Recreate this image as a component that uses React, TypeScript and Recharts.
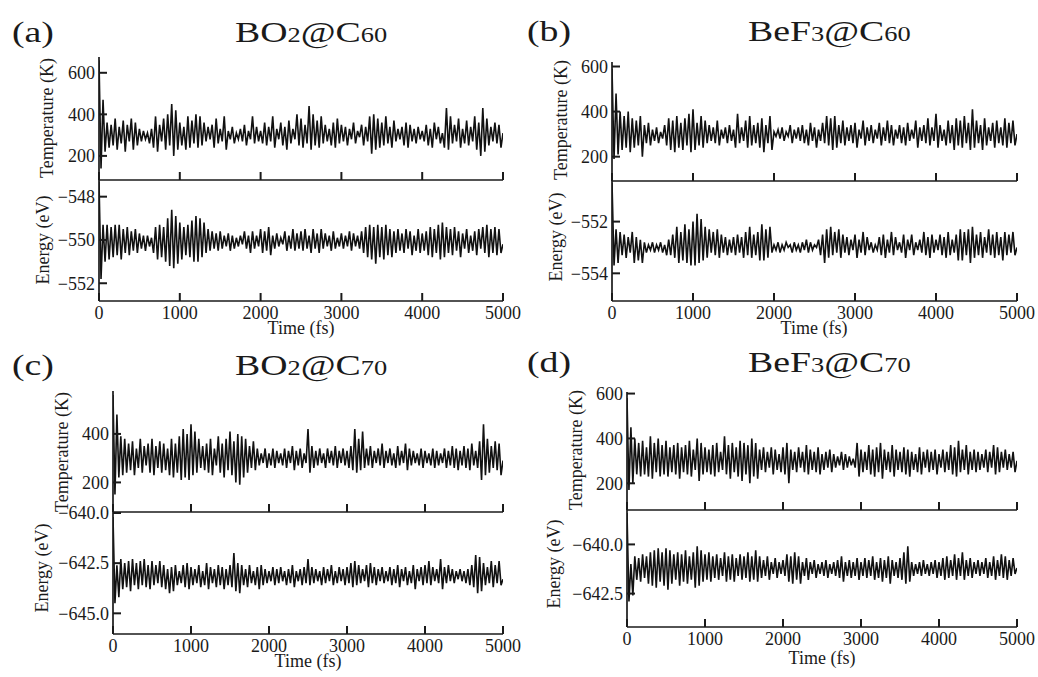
import React from 'react';
import { LineChart, Line, XAxis, YAxis } from 'recharts';

const FONT = '"Liberation Serif", "Times New Roman", serif';
const INK = '#1a1a1a';
const STEP = 25; // fs between samples

const X_TICKS = [0, 1000, 2000, 3000, 4000, 5000];

// (a) BO2@C60
const TEMP_A = [
  660, 140, 470, 220, 360, 240, 350, 250, 380, 230, 340, 260, 370, 220, 350, 270, 380, 230, 360, 250,
  330, 270, 320, 280, 310, 260, 330, 240, 390, 220, 350, 270, 380, 230, 400, 250, 450, 200, 420, 230,
  360, 250, 340, 230, 390, 240, 370, 260, 400, 240, 390, 250, 360, 270, 340, 280, 350, 240, 380, 260,
  330, 270, 390, 230, 320, 280, 340, 260, 310, 280, 330, 270, 350, 250, 320, 280, 390, 260, 340, 270,
  320, 260, 360, 250, 340, 270, 390, 240, 330, 280, 360, 250, 340, 230, 370, 260, 330, 280, 400, 250,
  380, 240, 350, 260, 440, 230, 400, 250, 370, 240, 390, 260, 350, 270, 330, 250, 360, 240, 380, 260,
  350, 270, 340, 250, 330, 280, 360, 260, 320, 290, 350, 250, 340, 270, 390, 210, 400, 230, 380, 240,
  360, 250, 390, 260, 340, 240, 370, 270, 330, 280, 340, 250, 360, 240, 350, 270, 330, 260, 340, 280,
  320, 270, 350, 250, 330, 240, 360, 280, 340, 260, 310, 240, 430, 230, 390, 260, 350, 270, 380, 240,
  330, 260, 370, 250, 340, 270, 390, 230, 360, 200, 430, 220, 380, 250, 340, 270, 360, 260, 350, 240,
  310,
];
const ENERGY_A = [
  -547.3, -551.8, -549.3, -551.0, -549.3, -550.9, -549.4, -550.8, -549.3, -550.7, -549.3, -550.9, -549.5, -550.6, -549.4, -550.7, -549.6, -550.5, -549.5, -550.6,
  -549.7, -550.4, -549.8, -550.5, -549.8, -550.3, -549.9, -550.6, -549.4, -550.9, -549.3, -550.8, -549.4, -551.0, -549.0, -551.2, -548.6, -551.3, -548.9, -551.1,
  -549.2, -550.9, -549.4, -550.7, -549.3, -550.8, -549.1, -551.0, -548.9, -551.0, -549.0, -550.8, -549.2, -550.6, -549.5, -550.5, -549.6, -550.4, -549.7, -550.5,
  -549.6, -550.4, -549.8, -550.3, -549.7, -550.5, -549.8, -550.4, -549.9, -550.3, -549.8, -550.2, -549.6, -550.4, -549.8, -550.6, -549.6, -550.4, -549.8, -550.3,
  -549.5, -550.6, -549.6, -550.5, -549.4, -550.7, -549.8, -550.4, -549.7, -550.3, -549.9, -550.2, -549.6, -550.5, -549.8, -550.4, -549.5, -550.5, -549.7, -550.4,
  -549.6, -550.5, -549.5, -550.4, -549.8, -550.6, -549.5, -550.4, -549.7, -550.6, -549.5, -550.4, -549.7, -550.3, -549.8, -550.5, -549.6, -550.4, -549.9, -550.3,
  -549.7, -550.4, -549.8, -550.3, -549.6, -550.5, -549.7, -550.3, -549.8, -550.4, -549.6, -550.6, -549.4, -550.8, -549.3, -550.9, -549.4, -551.1, -549.3, -550.8,
  -549.4, -550.9, -549.3, -550.7, -549.5, -550.8, -549.6, -550.6, -549.5, -550.5, -549.7, -550.6, -549.5, -550.4, -549.6, -550.7, -549.8, -550.5, -549.5, -550.6,
  -549.7, -550.5, -549.6, -550.7, -549.4, -550.8, -549.5, -550.6, -549.3, -550.9, -549.2, -550.8, -549.4, -550.6, -549.5, -550.7, -549.4, -550.5, -549.6, -550.8,
  -549.7, -550.4, -549.5, -550.6, -549.8, -550.5, -549.6, -550.7, -549.5, -550.4, -549.4, -550.6, -549.3, -550.8, -549.5, -550.6, -549.4, -550.7, -549.5, -550.6,
  -550.2,
];

// (b) BeF3@C60
const TEMP_B = [
  590, 190, 480, 210, 400, 230, 380, 240, 400, 220, 370, 240, 360, 250, 380, 200, 340, 260, 350, 250,
  320, 270, 330, 260, 310, 280, 340, 250, 370, 230, 360, 220, 380, 240, 350, 230, 370, 250, 390, 220,
  410, 230, 350, 250, 380, 240, 360, 260, 340, 270, 330, 260, 360, 250, 320, 280, 330, 260, 340, 270,
  320, 240, 390, 260, 330, 270, 360, 240, 380, 250, 340, 260, 350, 240, 370, 220, 340, 260, 380, 230,
  310, 290, 320, 280, 330, 270, 310, 290, 340, 260, 320, 280, 330, 270, 340, 260, 320, 250, 350, 270,
  330, 240, 320, 270, 350, 260, 380, 250, 370, 230, 380, 240, 340, 260, 360, 250, 330, 270, 340, 260,
  350, 240, 320, 280, 360, 250, 330, 270, 340, 260, 320, 280, 350, 250, 330, 270, 360, 260, 340, 250,
  320, 280, 340, 260, 330, 250, 350, 270, 320, 280, 360, 240, 330, 270, 340, 260, 370, 250, 330, 270,
  390, 240, 340, 270, 320, 250, 360, 260, 340, 230, 370, 250, 360, 240, 380, 260, 350, 230, 410, 240,
  360, 260, 340, 230, 370, 250, 330, 270, 350, 240, 360, 260, 330, 250, 370, 240, 350, 260, 360, 250,
  300,
];
const ENERGY_B = [
  -550.5, -553.7, -552.3, -553.6, -552.4, -553.3, -552.5, -553.4, -552.6, -553.2, -552.4, -553.6, -552.6, -553.5, -552.7, -553.6, -552.8, -553.2, -552.9, -553.1,
  -552.8, -553.2, -552.9, -553.1, -552.8, -553.2, -552.9, -553.3, -552.7, -553.3, -552.5, -553.4, -552.2, -553.6, -552.4, -553.5, -552.1, -553.6, -552.3, -553.7,
  -552.0, -553.7, -551.7, -553.6, -551.9, -553.5, -552.2, -553.4, -552.3, -553.2, -552.4, -553.3, -552.3, -553.4, -552.5, -553.2, -552.6, -553.3, -552.7, -553.2,
  -552.6, -553.3, -552.5, -553.2, -552.6, -553.4, -552.4, -553.3, -552.2, -553.4, -552.5, -553.3, -552.4, -553.5, -552.1, -553.5, -552.3, -553.4, -552.2, -553.2,
  -552.9, -553.1, -552.8, -553.2, -552.9, -553.1, -552.8, -553.0, -552.9, -553.2, -552.8, -553.1, -552.9, -553.2, -552.8, -553.1, -552.7, -553.2, -552.8, -553.1,
  -552.9, -553.0, -552.7, -553.3, -552.5, -553.6, -552.3, -553.4, -552.2, -553.3, -552.4, -553.2, -552.3, -553.4, -552.5, -553.2, -552.6, -553.3, -552.7, -553.1,
  -552.5, -553.4, -552.7, -553.2, -552.4, -553.3, -552.6, -553.1, -552.8, -553.2, -552.9, -553.1, -552.6, -553.3, -552.5, -553.4, -552.7, -553.2, -552.4, -553.3,
  -552.6, -553.1, -552.8, -553.2, -552.5, -553.4, -552.7, -553.1, -552.5, -553.3, -552.8, -553.1, -552.7, -553.2, -552.4, -553.3, -552.6, -553.4, -552.5, -553.2,
  -552.7, -553.1, -552.5, -553.3, -552.6, -553.4, -552.4, -553.3, -552.7, -553.2, -552.5, -553.5, -552.3, -553.5, -552.4, -553.3, -552.3, -553.6, -552.2, -553.4,
  -552.5, -553.3, -552.4, -553.4, -552.6, -553.2, -552.3, -553.3, -552.5, -553.4, -552.4, -553.3, -552.6, -553.5, -552.4, -553.3, -552.5, -553.2, -552.4, -553.3,
  -553.0,
];

// (c) BO2@C70
const TEMP_C = [
  560, 150, 480, 220, 390, 230, 380, 240, 360, 250, 370, 230, 340, 260, 380, 240, 350, 270, 360, 240,
  380, 230, 350, 260, 370, 240, 360, 250, 340, 230, 380, 220, 360, 240, 390, 210, 420, 220, 400, 210,
  440, 230, 410, 240, 380, 260, 350, 250, 360, 240, 380, 230, 340, 270, 390, 240, 360, 220, 380, 250,
  410, 230, 370, 200, 400, 190, 390, 220, 380, 240, 350, 260, 370, 250, 340, 270, 320, 280, 340, 260,
  320, 270, 340, 260, 330, 280, 320, 270, 340, 260, 330, 280, 350, 250, 330, 270, 340, 260, 320, 280,
  420, 240, 350, 260, 330, 270, 340, 280, 320, 260, 340, 280, 330, 270, 350, 260, 330, 280, 340, 270,
  330, 260, 350, 250, 420, 240, 380, 250, 410, 260, 340, 270, 350, 260, 330, 280, 340, 270, 360, 260,
  330, 280, 340, 270, 320, 260, 350, 270, 330, 280, 360, 250, 340, 270, 330, 280, 320, 270, 340, 260,
  330, 280, 320, 270, 340, 260, 330, 270, 320, 280, 340, 260, 330, 270, 350, 260, 340, 250, 330, 270,
  350, 260, 340, 250, 360, 270, 330, 260, 370, 210, 440, 230, 380, 240, 350, 260, 370, 250, 360, 230,
  290,
];
const ENERGY_C = [
  -640.2, -644.5, -642.6, -644.2, -642.3, -643.8, -642.5, -643.7, -642.4, -643.9, -642.3, -643.6, -642.5, -643.8, -642.4, -643.6, -642.3, -643.7, -642.6, -643.8,
  -642.4, -643.6, -642.6, -643.5, -642.4, -643.7, -642.6, -643.8, -642.8, -644.0, -642.7, -643.9, -642.6, -643.6, -642.9, -643.5, -642.6, -643.7, -642.5, -643.8,
  -642.7, -643.6, -642.8, -643.5, -642.6, -643.7, -642.9, -643.6, -642.5, -643.8, -642.7, -643.5, -642.8, -643.7, -642.6, -643.6, -642.7, -643.8, -642.8, -643.6,
  -642.6, -643.7, -642.0, -643.9, -642.5, -644.0, -642.6, -643.6, -642.8, -643.7, -642.6, -643.5, -642.9, -643.6, -642.7, -643.8, -642.6, -643.6, -642.8, -643.5,
  -642.9, -643.4, -642.7, -643.6, -642.8, -643.5, -642.7, -643.4, -642.9, -643.6, -642.8, -643.5, -642.6, -643.7, -642.9, -643.4, -642.8, -643.6, -642.7, -643.5,
  -642.3, -643.6, -642.7, -643.5, -642.8, -643.4, -642.9, -643.6, -642.7, -643.5, -642.8, -643.4, -642.6, -643.6, -642.9, -643.5, -642.7, -643.4, -642.8, -643.6,
  -642.7, -643.5, -642.5, -643.7, -642.4, -643.6, -642.6, -643.5, -642.8, -643.4, -642.6, -643.7, -642.5, -643.5, -642.7, -643.6, -642.8, -643.4, -642.7, -643.5,
  -642.9, -643.4, -642.7, -643.6, -642.8, -643.5, -642.6, -643.7, -642.8, -643.4, -642.7, -643.6, -642.9, -643.5, -642.6, -643.8, -642.8, -643.4, -642.7, -643.6,
  -642.6, -643.5, -642.4, -643.6, -642.7, -643.4, -642.8, -643.5, -642.3, -643.8, -642.7, -643.5, -642.6, -643.4, -642.8, -643.5, -642.9, -643.3, -642.8, -643.4,
  -642.9, -643.5, -642.8, -643.6, -642.6, -643.7, -642.1, -644.0, -642.2, -643.9, -642.5, -643.6, -642.7, -643.5, -642.4, -643.7, -642.6, -643.5, -642.4, -643.6,
  -643.3,
];

// (d) BeF3@C70
const TEMP_D = [
  580, 170, 450, 200, 400, 240, 380, 230, 390, 240, 360, 230, 410, 220, 380, 250, 400, 230, 370, 240,
  390, 230, 360, 250, 370, 240, 380, 220, 360, 250, 370, 240, 390, 230, 350, 260, 400, 210, 380, 240,
  360, 250, 350, 240, 370, 230, 380, 250, 340, 260, 410, 240, 370, 220, 380, 250, 360, 230, 390, 210,
  380, 240, 370, 200, 400, 230, 380, 220, 350, 260, 360, 250, 340, 270, 360, 240, 350, 260, 330, 250,
  360, 240, 380, 200, 350, 260, 340, 250, 360, 270, 340, 250, 370, 240, 350, 260, 340, 250, 360, 240,
  330, 260, 340, 270, 350, 250, 330, 270, 320, 280, 340, 260, 330, 270, 320, 280, 310, 270, 380, 230,
  350, 250, 340, 260, 370, 240, 350, 230, 360, 250, 380, 220, 350, 260, 340, 250, 370, 230, 350, 260,
  340, 250, 360, 240, 350, 230, 340, 260, 330, 250, 360, 240, 340, 270, 350, 250, 340, 260, 350, 240,
  330, 270, 350, 250, 340, 260, 370, 240, 360, 230, 390, 250, 350, 260, 370, 240, 340, 260, 350, 250,
  340, 260, 330, 270, 350, 250, 340, 270, 370, 240, 360, 250, 340, 270, 350, 260, 330, 270, 340, 250,
  300,
];
const ENERGY_D = [
  -638.4, -642.9, -641.0, -642.6, -640.6, -641.8, -640.7, -641.9, -640.5, -641.7, -640.6, -642.0, -640.4, -642.1, -640.3, -642.2, -640.2, -641.9, -640.4, -642.1,
  -640.2, -642.3, -640.3, -642.0, -640.5, -641.8, -640.4, -642.1, -640.5, -641.9, -640.3, -642.0, -640.6, -641.8, -640.4, -642.2, -640.1, -642.1, -640.3, -641.9,
  -640.5, -641.8, -640.4, -641.9, -640.6, -641.7, -640.5, -641.8, -640.7, -641.6, -640.4, -641.9, -640.6, -641.8, -640.5, -641.9, -640.7, -641.6, -640.5, -641.8,
  -640.6, -641.7, -640.4, -641.9, -640.6, -641.8, -640.3, -641.9, -640.6, -641.7, -640.8, -641.6, -640.6, -641.8, -640.9, -641.5, -640.7, -641.7, -640.9, -641.5,
  -640.8, -641.6, -640.5, -641.9, -640.6, -642.0, -640.4, -641.8, -640.6, -642.0, -640.9, -641.6, -640.7, -641.8, -640.9, -641.5, -640.8, -641.7, -641.0, -641.5,
  -640.9, -641.6, -640.8, -641.7, -641.0, -641.5, -640.9, -641.6, -640.8, -641.7, -640.6, -641.9, -640.9, -641.6, -640.8, -641.7, -640.9, -641.6, -640.7, -641.8,
  -640.9, -641.6, -640.7, -641.7, -640.8, -641.6, -640.6, -641.8, -640.9, -641.7, -640.7, -641.9, -640.8, -641.7, -640.6, -642.0, -640.8, -641.6, -640.9, -641.7,
  -640.7, -641.8, -640.4, -642.0, -640.1, -641.9, -640.9, -641.6, -641.0, -641.5, -640.9, -641.6, -640.8, -641.5, -641.0, -641.6, -640.9, -641.5, -640.8, -641.7,
  -640.9, -641.6, -640.7, -641.8, -640.6, -641.7, -640.8, -641.6, -640.5, -641.8, -640.7, -641.6, -640.4, -641.8, -640.8, -641.6, -640.7, -641.7, -640.9, -641.5,
  -640.8, -641.6, -640.9, -641.5, -640.7, -641.7, -640.9, -641.6, -640.6, -641.8, -640.8, -641.6, -640.5, -641.7, -640.6, -641.8, -640.8, -641.6, -640.7, -641.5,
  -641.2,
];

const TEMP_TICKS_A = [200, 400, 600];
const ENERGY_TICKS_A = [-552, -550, -548];
const TEMP_TICKS_B = [200, 400, 600];
const ENERGY_TICKS_B = [-554, -552];
const TEMP_TICKS_C = [200, 400];
const ENERGY_TICKS_C = [-645, -642.5, -640];
const TEMP_TICKS_D = [200, 400, 600];
const ENERGY_TICKS_D = [-642.5, -640];

const toRows = (vals: number[]) => vals.map((v, i) => ({ t: i * STEP, v }));

const fmtInt = (v: number) => (v < 0 ? `\u2212${Math.abs(v)}` : `${v}`);
const fmtOne = (v: number) => (v < 0 ? `\u2212${Math.abs(v).toFixed(1)}` : v.toFixed(1));

const YW = 70;
const PAD = 12;
const PAD_R = 28; // room for the "5000" label at the right end

interface SubProps {
  x0: number;
  x1: number;
  y0: number;
  y1: number;
  values: number[];
  domain: [number, number];
  ticks: number[];
  fmt: (v: number) => string;
  showX?: boolean;
}

const Sub = ({ x0, x1, y0, y1, values, domain, ticks, fmt, showX = false }: SubProps) => {
  const xh = showX ? 26 : 2;
  const data = toRows(values);
  return (
    <div style={{ position: 'absolute', left: x0 - YW, top: y0 - PAD }}>
      <LineChart
        width={x1 - x0 + YW + PAD_R}
        height={y1 - y0 + PAD + xh}
        data={data}
        margin={{ top: PAD, right: PAD_R, bottom: 0, left: 0 }}
      >
        <XAxis
          xAxisId="b"
          dataKey="t"
          type="number"
          domain={[0, 5000]}
          ticks={X_TICKS}
          interval={0}
          allowDataOverflow
          height={xh}
          tickSize={0}
          tickMargin={0}
          tickLine={false}
          stroke={INK}
          strokeWidth={1.7}
          tick={(p: any) => (
            <g key={`xt-${p.index}`}>
              <line x1={p.x} x2={p.x} y1={p.y} y2={p.y - 8} stroke={INK} strokeWidth={2} />
              {showX && (
                <text x={p.x} y={p.y + 18} textAnchor="middle" fontSize={18} fontFamily={FONT} fill={INK}>
                  {p.payload.value}
                </text>
              )}
            </g>
          )}
        />
        <XAxis
          xAxisId="top"
          orientation="top"
          type="number"
          domain={[0, 5000]}
          allowDataOverflow
          height={0}
          tick={false}
          tickLine={false}
          stroke={INK}
          strokeWidth={1.7}
        />
        <YAxis
          yAxisId="l"
          type="number"
          domain={domain}
          ticks={ticks}
          interval={0}
          allowDataOverflow
          width={YW}
          tickSize={0}
          tickMargin={0}
          tickLine={false}
          stroke={INK}
          strokeWidth={1.7}
          tick={(p: any) => (
            <g key={`yt-${p.index}`}>
              <line x1={p.x} x2={p.x + 8} y1={p.y} y2={p.y} stroke={INK} strokeWidth={2} />
              <text x={p.x - 4} y={p.y} dy="0.35em" textAnchor="end" fontSize={18} fontFamily={FONT} fill={INK}>
                {fmt(p.payload.value)}
              </text>
            </g>
          )}
        />
        <YAxis
          yAxisId="r"
          orientation="right"
          type="number"
          domain={domain}
          allowDataOverflow
          width={0}
          tick={false}
          tickLine={false}
          stroke={INK}
          strokeWidth={1.7}
        />
        <Line
          xAxisId="b"
          yAxisId="l"
          dataKey="v"
          type="linear"
          dot={false}
          stroke="#111"
          strokeWidth={1.6}
          isAnimationActive={false}
        />
      </LineChart>
    </div>
  );
};

const SX = 1.26; // the source figure is stretched horizontally

const Title = ({ x, y, letter, head, sub1, mid, sub2 }: any) => (
  <g>
    <text transform={`translate(${x.l},${y}) scale(${SX},1)`} fontSize={30} fontFamily={FONT} fill={INK}>
      {letter}
    </text>
    <text transform={`translate(${x.t},${y}) scale(${SX},1)`} fontSize={30} fontFamily={FONT} fill={INK}>
      {head}
      <tspan fontSize={21}>{sub1}</tspan>
      {mid}
      <tspan fontSize={21}>{sub2}</tspan>
    </text>
  </g>
);

const VLabel = ({ x, y, children }: any) => (
  <text
    transform={`translate(${x},${y}) rotate(-90)`}
    textAnchor="middle"
    dominantBaseline="central"
    fontSize={18}
    fontFamily={FONT}
    fill={INK}
  >
    {children}
  </text>
);

const HLabel = ({ x, y }: any) => (
  <text x={x} y={y} textAnchor="middle" fontSize={18} fontFamily={FONT} fill={INK}>
    Time (fs)
  </text>
);

export default function App() {
  return (
    <div style={{ position: 'absolute', left: 0, top: 0, width: 1038, height: 677, background: '#fff', overflow: 'hidden' }}>
      {/* (a) */}
      <Sub x0={99} x1={503} y0={57} y1={180} values={TEMP_A} domain={[84, 676]} ticks={TEMP_TICKS_A} fmt={fmtInt} />
      <Sub x0={99} x1={503} y0={180} y1={301} values={ENERGY_A} domain={[-552.82, -547.23]} ticks={ENERGY_TICKS_A} fmt={fmtInt} showX />
      {/* (b) */}
      <Sub x0={612} x1={1017} y0={62} y1={181} values={TEMP_B} domain={[92, 620]} ticks={TEMP_TICKS_B} fmt={fmtInt} />
      <Sub x0={612} x1={1017} y0={181} y1={301} values={ENERGY_B} domain={[-555.07, -550.43]} ticks={ENERGY_TICKS_B} fmt={fmtInt} showX />
      {/* (c) */}
      <Sub x0={113} x1={503} y0={391} y1={512} values={TEMP_C} domain={[78, 577]} ticks={TEMP_TICKS_C} fmt={fmtInt} />
      <Sub x0={113} x1={503} y0={512} y1={634} values={ENERGY_C} domain={[-646.03, -639.95]} ticks={ENERGY_TICKS_C} fmt={fmtOne} showX />
      {/* (d) */}
      <Sub x0={627} x1={1017} y0={392} y1={510} values={TEMP_D} domain={[81, 607]} ticks={TEMP_TICKS_D} fmt={fmtInt} />
      <Sub x0={627} x1={1017} y0={510} y1={627} values={ENERGY_D} domain={[-644.2, -638.25]} ticks={ENERGY_TICKS_D} fmt={fmtOne} showX />

      <svg width={1038} height={677} style={{ position: 'absolute', left: 0, top: 0, pointerEvents: 'none' }}>
        <Title x={{ l: 12, t: 235 }} y={42} letter="(a)" head="BO" sub1="2" mid="@C" sub2="60" />
        <Title x={{ l: 527, t: 748 }} y={41} letter="(b)" head="BeF" sub1="3" mid="@C" sub2="60" />
        <Title x={{ l: 12, t: 235 }} y={375} letter="(c)" head="BO" sub1="2" mid="@C" sub2="70" />
        <Title x={{ l: 527, t: 748 }} y={372} letter="(d)" head="BeF" sub1="3" mid="@C" sub2="70" />

        <VLabel x={47} y={118}>Temperature (K)</VLabel>
        <VLabel x={43} y={240}>Energy (eV)</VLabel>
        <VLabel x={561} y={120}>Temperature (K)</VLabel>
        <VLabel x={556} y={237}>Energy (eV)</VLabel>
        <VLabel x={62} y={452}>Temperature (K)</VLabel>
        <VLabel x={42} y={568}>Energy (eV)</VLabel>
        <VLabel x={576} y={450}>Temperature (K)</VLabel>
        <VLabel x={554} y={564}>Energy (eV)</VLabel>

        <HLabel x={301} y={334} />
        <HLabel x={814} y={334} />
        <HLabel x={308} y={667} />
        <HLabel x={822} y={664} />
      </svg>
    </div>
  );
}
